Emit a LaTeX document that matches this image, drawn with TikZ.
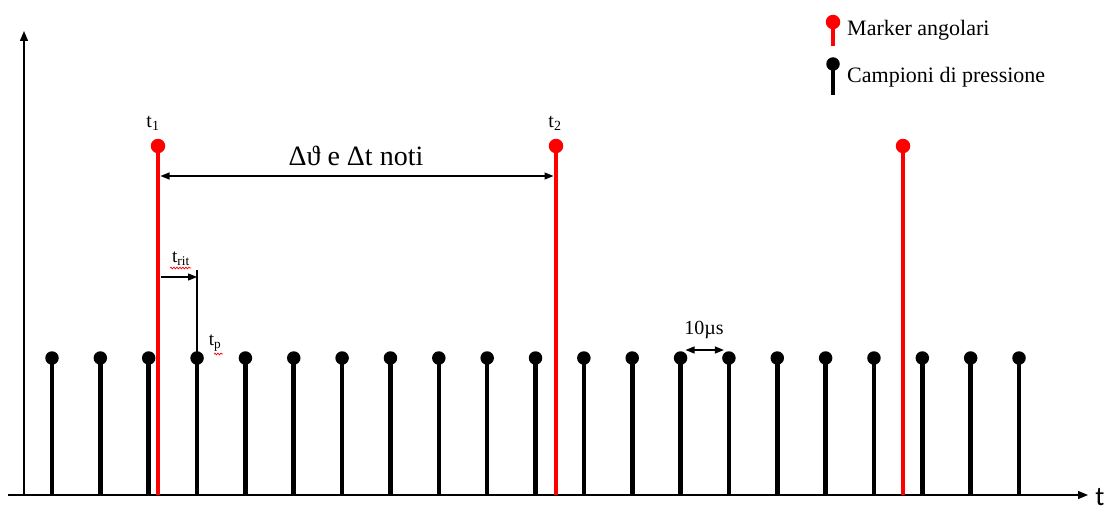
\documentclass[tikz,border=0pt]{standalone}
\usepackage{fontspec}
\setmainfont{Liberation Serif}
\newfontfamily\axisfont{Carlito}
\usetikzlibrary{arrows.meta,calc,decorations.pathmorphing}

\tikzset{
    sample/.style={circle, fill=black, inner sep=0pt, minimum size=13.5pt},
    marker/.style={circle, fill=red, inner sep=0pt, minimum size=14.5pt},
    blackstem/.style={line width=4.6pt, black},
    redstem/.style={line width=4.6pt, red},
    axis/.style={line width=1.3pt, -{Triangle[length=10pt,width=8pt]}},
    dim/.style={line width=1.2pt, {Triangle[length=9pt,width=7pt]}-{Triangle[length=9pt,width=7pt]}},
    lbl/.style={font=\fontsize{20}{24}\selectfont, inner sep=0pt},
    spell/.style={red, line width=0.7pt, decorate, decoration={snake, amplitude=0.9pt, segment length=3pt}}
}

\begin{document}
\begin{tikzpicture}[x=1pt, y=-1pt]
\useasboundingbox (0,0) rectangle (1108,511);

% axes
\coordinate (O) at (24,495);
\coordinate (xstart) at (8,495);
\coordinate (xend) at (1088,495);
\coordinate (yend) at (24,31);
\draw[axis] (xstart) -- (xend);
\draw[axis] (O) -- (yend);
\node[font=\axisfont\fontsize{27}{30}\selectfont, inner sep=0pt] (tlab) at (1100,497) {t};

% pressure samples
\foreach \i in {0,...,20} {
    \node[sample] (s\i) at ({52+48.35*\i},358) {};
    \draw[blackstem] (s\i.center) -- (s\i |- O);
}

% angular markers
\foreach \x [count=\i] in {158,556,903} {
    \node[marker] (m\i) at (\x,146) {};
    \draw[redstem] (m\i.center) -- (m\i |- O);
}
\node[lbl] (t1) at (153,123) {t\textsubscript{1}};
\node[lbl] (t2) at (555,123) {t\textsubscript{2}};

% delta between markers
\coordinate (d1) at ($(m1 |- 0,176)+(2.5,0)$);
\coordinate (d2) at ($(m2 |- 0,176)+(-2.5,0)$);
\draw[dim] (d1) -- (d2);
\node[font=\fontsize{28}{32}\selectfont, inner sep=0pt] (noti) at (356,156) {Δϑ e Δt noti};

% delay of first sample
\coordinate (r1) at ($(m1 |- 0,277)+(2.5,0)$);
\coordinate (r2) at (s3 |- 0,277);
\coordinate (r3) at (s3 |- 0,270);
\draw[line width=1.2pt] (r3) -- (s3.center);
\draw[line width=1.2pt, -{Triangle[length=9pt,width=7pt]}] (r1) -- (r2);
\node[lbl, font=\fontsize{19}{22}\selectfont] (trit) at (181,259) {t\textsubscript{rit}};
\node[lbl, font=\fontsize{19}{22}\selectfont] (tp) at (215,343) {t\textsubscript{p}};
\draw[spell] (170,268) -- (191,268);
\draw[spell] (214,354) -- (223,354);

% sampling period
\coordinate (p1) at ($(s13)+(5,-8)$);
\coordinate (p2) at ($(s14)+(-5,-8)$);
\draw[dim] (p1) -- (p2);
\node[lbl] (per) at (704,330) {10µs};

% legend
\node[marker] (lm) at (833,22) {};
\draw[redstem] (lm.center) -- ++(0,24);
\node[lbl, anchor=west, font=\fontsize{22}{24}\selectfont] (lmt) at (847,30) {Marker angolari};
\node[sample] (ls) at (833,64) {};
\draw[blackstem] (ls.center) -- ++(0,31);
\node[lbl, anchor=west, font=\fontsize{22}{24}\selectfont] (lst) at (847,77) {Campioni di pressione};

\end{tikzpicture}
\end{document}
